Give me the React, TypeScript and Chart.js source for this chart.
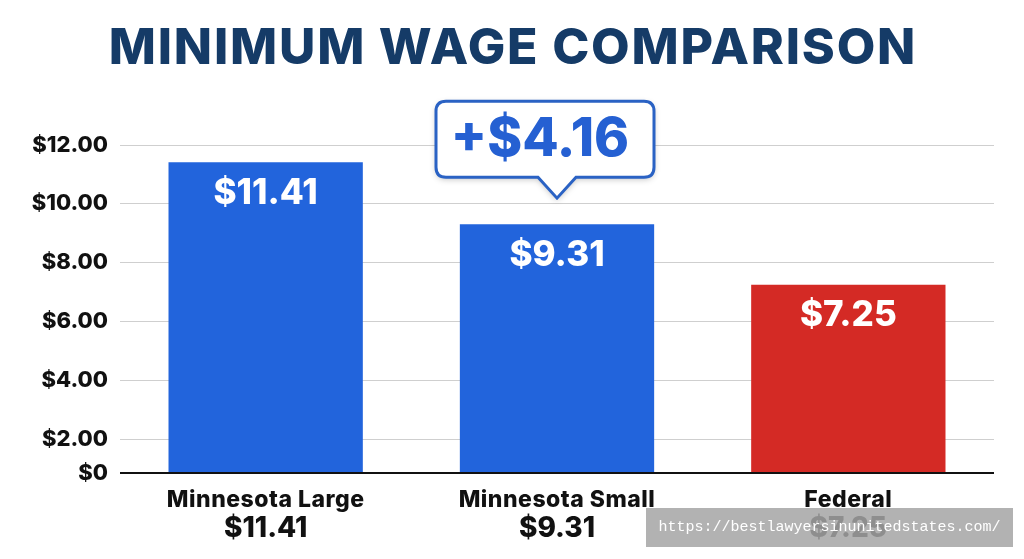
import { useEffect, useRef } from 'react';
import Chart from 'chart.js/auto';

// Data
const categories = ['Minnesota Large', 'Minnesota Small', 'Federal'];
const wages = [11.41, 9.31, 7.25];
const barColors = ['#2264dc', '#2264dc', '#d42a25'];
const yTickValues = [2, 4, 6, 8, 10, 12];
// the picture's "$0" line sits a little above a true zero
const yAxisFloor = 0.85;
const yAxisCeil = 12;

const FONT = 'Inter, "Noto Sans", sans-serif';
const money = (v: number) => '$' + v.toFixed(2);

const chartDecor = {
  id: 'chartDecor',
  afterDatasetsDraw(chart: any) {
    const { ctx, chartArea } = chart;
    const bars = chart.getDatasetMeta(0).data;
    ctx.save();

    // title
    ctx.fillStyle = '#153b67';
    ctx.font = `800 50px ${FONT}`;
    ctx.textAlign = 'center';
    ctx.textBaseline = 'middle';
    (ctx as any).letterSpacing = '1.8px';
    ctx.fillText('MINIMUM WAGE COMPARISON', chart.width / 2 + 1, 49);
    (ctx as any).letterSpacing = '0px';

    // baseline
    ctx.strokeStyle = '#111';
    ctx.lineWidth = 2;
    ctx.beginPath();
    ctx.moveTo(chartArea.left, chartArea.bottom);
    ctx.lineTo(chartArea.right, chartArea.bottom);
    ctx.stroke();

    bars.forEach((bar: any, i: number) => {
      // value inside bar
      ctx.fillStyle = '#ffffff';
      ctx.font = `800 35px ${FONT}`;
      ctx.fillText(money(wages[i]), bar.x, bar.y + 31);

      // category labels under the axis
      ctx.fillStyle = '#111';
      ctx.font = `800 23px ${FONT}`;
      (ctx as any).letterSpacing = '0.5px';
      ctx.fillText(categories[i], bar.x, chartArea.bottom + 27);
      (ctx as any).letterSpacing = '0px';
      ctx.font = `800 28px ${FONT}`;
      ctx.fillText(money(wages[i]), bar.x, chartArea.bottom + 56);
    });

    // callout above the middle bar
    const mid = bars[1];
    const diff = wages[0] - wages[2];
    const left = mid.x - 121;
    const right = mid.x + 97;
    const top = mid.y - 123;
    const bottom = mid.y - 47;
    const tipY = mid.y - 26;
    const r = 10;
    ctx.beginPath();
    ctx.moveTo(left + r, top);
    ctx.lineTo(right - r, top);
    ctx.quadraticCurveTo(right, top, right, top + r);
    ctx.lineTo(right, bottom - r);
    ctx.quadraticCurveTo(right, bottom, right - r, bottom);
    ctx.lineTo(mid.x + 19, bottom);
    ctx.lineTo(mid.x, tipY);
    ctx.lineTo(mid.x - 19, bottom);
    ctx.lineTo(left + r, bottom);
    ctx.quadraticCurveTo(left, bottom, left, bottom - r);
    ctx.lineTo(left, top + r);
    ctx.quadraticCurveTo(left, top, left + r, top);
    ctx.closePath();
    ctx.shadowColor = 'rgba(0,0,0,0.25)';
    ctx.shadowBlur = 6;
    ctx.shadowOffsetY = 2;
    ctx.fillStyle = '#ffffff';
    ctx.fill();
    ctx.shadowColor = 'transparent';
    ctx.strokeStyle = '#2a62c4';
    ctx.lineWidth = 3;
    ctx.stroke();

    ctx.fillStyle = '#2560d2';
    ctx.font = `800 53px ${FONT}`;
    ctx.fillText('+' + money(diff), (left + right) / 2 - 5, (top + bottom) / 2 + 1);

    ctx.restore();
  },
};

export default function App() {
  const chartRef = useRef<HTMLCanvasElement>(null);
  const chartInstance = useRef<Chart | null>(null);

  useEffect(() => {
    if (!chartRef.current) return;
    const ctx = chartRef.current.getContext('2d');
    if (!ctx) return;

    if (chartInstance.current) {
      chartInstance.current.destroy();
      chartInstance.current = null;
    }

    chartInstance.current = new Chart(ctx, {
      type: 'bar',
      data: {
        labels: categories,
        datasets: [
          {
            data: wages,
            backgroundColor: barColors,
            barPercentage: 0.667,
            categoryPercentage: 1,
          },
        ],
      },
      options: {
        responsive: true,
        maintainAspectRatio: false,
        animation: false,
        layout: { padding: { top: 145, right: 30, bottom: 86, left: 0 } },
        plugins: {
          legend: { display: false },
          tooltip: { enabled: false },
        },
        scales: {
          x: { display: false },
          y: {
            min: yAxisFloor,
            max: yAxisCeil,
            afterBuildTicks: (scale: any) => {
              scale.ticks = [yAxisFloor, ...yTickValues].map((value) => ({ value }));
            },
            afterFit: (scale: any) => {
              scale.width = 120;
            },
            border: { display: false },
            grid: { color: '#cfcfcf', drawTicks: false, lineWidth: 1 },
            ticks: {
              padding: 12,
              color: '#111',
              font: { family: FONT, size: 22, weight: 800 },
              callback: (value: any) => (Number(value) < 1 ? '$0' : money(Number(value))),
            },
          },
        },
      },
      plugins: [chartDecor],
    });

    return () => {
      if (chartInstance.current) {
        chartInstance.current.destroy();
        chartInstance.current = null;
      }
    };
  }, []);

  return (
    <div style={{ position: 'fixed', left: 0, top: 0, width: 1024, height: 559, background: '#fff' }}>
      <canvas ref={chartRef} />
      <div
        style={{
          position: 'absolute',
          left: 646,
          top: 508,
          width: 367,
          height: 39,
          background: 'rgba(165,165,165,0.85)',
          color: '#fff',
          fontFamily: '"Liberation Mono", monospace',
          fontSize: 15,
          lineHeight: '39px',
          textAlign: 'center',
        }}
      >
        https://bestlawyersinunitedstates.com/
      </div>
    </div>
  );
}
